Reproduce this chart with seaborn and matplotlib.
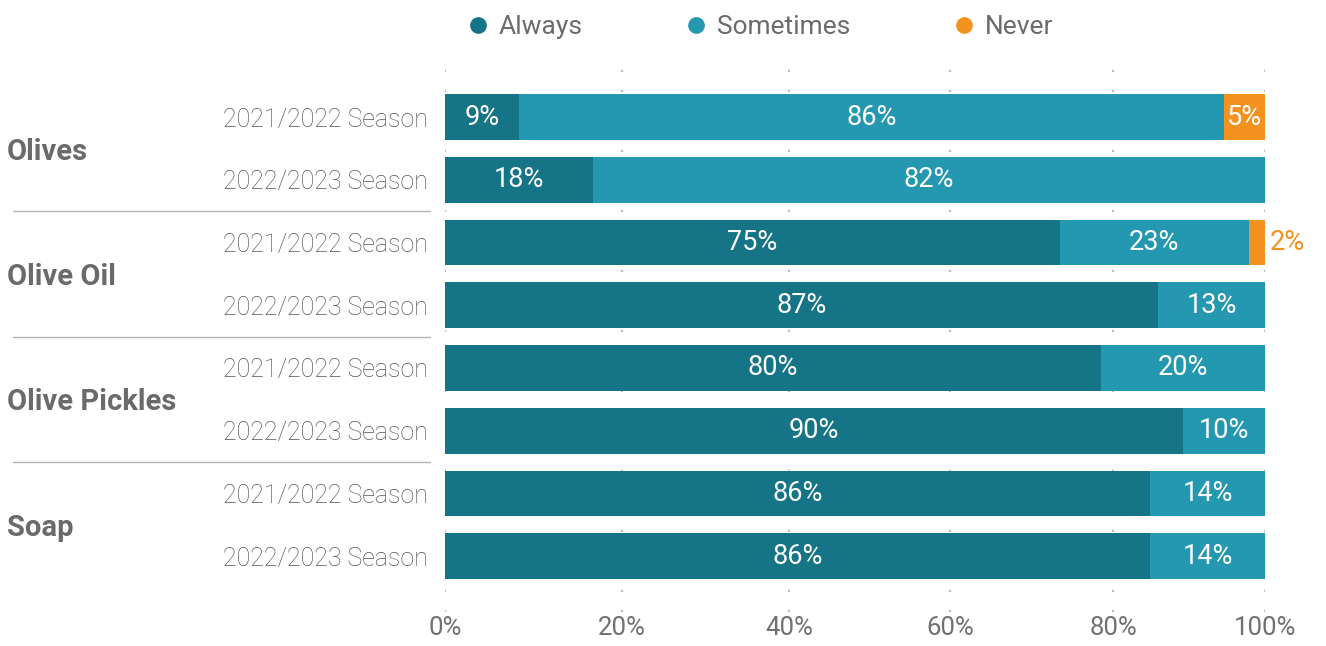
import matplotlib
matplotlib.use("Agg")
import matplotlib.pyplot as plt
from matplotlib.lines import Line2D
from matplotlib.transforms import blended_transform_factory
import seaborn as sns
import pandas as pd
import numpy as np

# ---- data ----
groups = ["Olives", "Olives", "Olive Oil", "Olive Oil",
          "Olive Pickles", "Olive Pickles", "Soap", "Soap"]
seasons = ["2021/2022 Season", "2022/2023 Season"] * 4
always = [9, 18, 75, 87, 80, 90, 86, 86]
sometimes = [86, 82, 23, 13, 20, 10, 14, 14]
never = [5, 0, 2, 0, 0, 0, 0, 0]
series_names = ["Always", "Sometimes", "Never"]
group_names = ["Olives", "Olive Oil", "Olive Pickles", "Soap"]
xtick_labels = ["0%", "20%", "40%", "60%", "80%", "100%"]
xtick_values = [0, 21.6, 42.0, 61.6, 81.5, 100]  # gridline placement as drawn in the source

colors = {"Always": "#167487", "Sometimes": "#2497B1", "Never": "#F3921F"}

df = pd.DataFrame({"group": groups, "season": seasons,
                   "Always": always, "Sometimes": sometimes, "Never": never})
df["row"] = df["group"] + " | " + df["season"]
df["cum_always"] = df["Always"]
df["cum_sometimes"] = df["Always"] + df["Sometimes"]
df["cum_never"] = df["cum_sometimes"] + df["Never"]
order = list(df["row"])

sns.set_theme(style="white")
plt.rcParams["font.family"] = ["Roboto", "DejaVu Sans"]

fig = plt.figure(figsize=(13.26, 6.46), dpi=100)
ax = fig.add_axes([0.3356, 0.0526, 0.6184, 0.842])

for col, name in [("cum_never", "Never"), ("cum_sometimes", "Sometimes"), ("cum_always", "Always")]:
    sns.barplot(data=df, y="row", x=col, order=order, orient="h", color=colors[name],
                saturation=1, errorbar=None, width=0.73, linewidth=0, ax=ax, zorder=3)

ax.set_xlim(0, 100)
ax.set_ylim(7.89, -0.78)
ax.set_xlabel("")
ax.set_ylabel("")
for s in ax.spines.values():
    s.set_visible(False)

ax.set_xticks(xtick_values)
ax.set_xticklabels(xtick_labels)
ax.tick_params(axis="x", length=0, pad=3, labelsize=18.5, labelcolor="#707070")
ax.set_yticks(range(len(order)))
ax.set_yticklabels(seasons, fontweight="light")
ax.tick_params(axis="y", length=0, pad=12, labelsize=18, labelcolor="#555555")

ax.set_axisbelow(True)
ax.xaxis.grid(True, color="#bdbdbd", linewidth=1.6, linestyle=(0, (1, 8)))
ax.yaxis.grid(False)

# segment labels
for i, r in df.iterrows():
    left = 0
    for name in series_names:
        v = r[name]
        if v > 0:
            if v >= 4:
                ax.text(left + v / 2, i, f"{v}%", ha="center", va="center",
                        color="white", fontsize=19.5, zorder=5)
            else:
                ax.text(left + v + 0.6, i, f"{v}%", ha="left", va="center",
                        color=colors[name], fontsize=19.5, zorder=5)
        left += v

# group labels and separators
blend = blended_transform_factory(fig.transFigure, ax.transData)
for k, g in enumerate(group_names):
    idx = [i for i, gg in enumerate(groups) if gg == g]
    ax.text(7 / 1326, np.mean(idx) + 0.05, g, transform=blend, ha="left", va="center",
            fontsize=21, fontweight="bold", color="#6a6a6a")
    if k > 0:
        ax.plot([13 / 1326, 430 / 1326], [idx[0] - 0.5, idx[0] - 0.5], transform=blend,
                clip_on=False, color="#b5b5b5", linewidth=1)

handles = [Line2D([0], [0], marker="o", linestyle="", markersize=11,
                  markerfacecolor=colors[n], markeredgecolor=colors[n]) for n in series_names]
leg = fig.legend(handles, series_names, loc="center", bbox_to_anchor=(0.574, 0.958), ncol=3,
                 frameon=False, fontsize=19, handlelength=0.7, handletextpad=0.45,
                 columnspacing=3.95)
for t in leg.get_texts():
    t.set_color("#6b6b6b")

fig.savefig("out.png", dpi=100)
